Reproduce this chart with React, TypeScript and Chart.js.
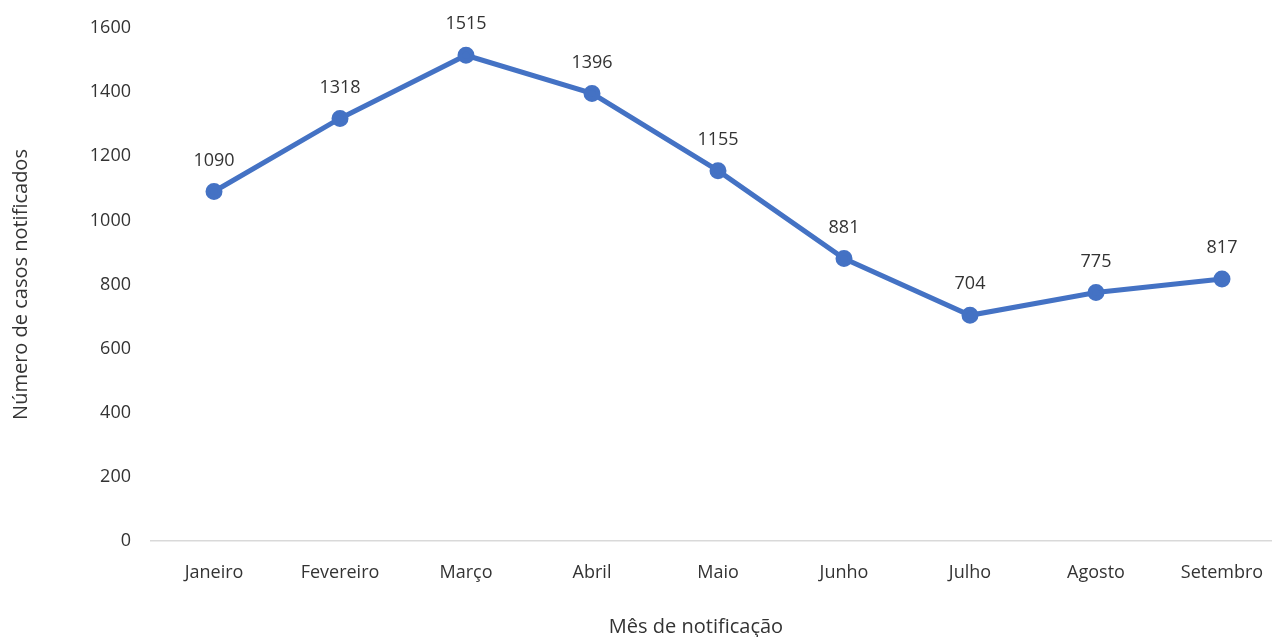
import React, { useEffect, useRef } from "react";
import { Chart, registerables } from "chart.js";

Chart.register(...registerables);

const months = ["Janeiro", "Fevereiro", "Março", "Abril", "Maio", "Junho", "Julho", "Agosto", "Setembro"];
const cases = [1090, 1318, 1515, 1396, 1155, 881, 704, 775, 817];
const yTicks = [0, 200, 400, 600, 800, 1000, 1200, 1400, 1600];
const xTitle = "Mês de notificação";
const yTitle = "Número de casos notificados";

const FONT = "'Open Sans', sans-serif";
const TEXT = "#333333";

const labelsPlugin = {
  id: "valueLabels",
  afterDatasetsDraw(chart: any) {
    const ctx = chart.ctx;
    const meta = chart.getDatasetMeta(0);
    ctx.save();
    ctx.font = `18px ${FONT}`;
    ctx.fillStyle = TEXT;
    ctx.textAlign = "center";
    ctx.textBaseline = "middle";
    meta.data.forEach((pt: any, i: number) => {
      ctx.fillText(String(cases[i]), pt.x, pt.y - 31);
    });
    ctx.restore();
  },
};

const xTitlePlugin = {
  id: "xTitle",
  afterDraw(chart: any) {
    const ctx = chart.ctx;
    const area = chart.chartArea;
    ctx.save();
    ctx.font = `20px ${FONT}`;
    ctx.fillStyle = TEXT;
    ctx.textAlign = "center";
    ctx.textBaseline = "middle";
    ctx.fillText(xTitle, (area.left + area.right) / 2 - 22, area.bottom + 86);
    ctx.restore();
  },
};

export default function App() {
  const ref = useRef<HTMLCanvasElement>(null);
  useEffect(() => {
    document.body.style.margin = "0";
    const chart = new Chart(ref.current!, {
      type: "line",
      data: {
        labels: months,
        datasets: [
          {
            data: cases,
            borderColor: "#4472C4",
            backgroundColor: "#4472C4",
            borderWidth: 5,
            pointRadius: 6,
            pointHoverRadius: 6,
            pointBackgroundColor: "#4472C4",
            pointBorderColor: "#4472C4",
            tension: 0,
          },
        ],
      },
      options: {
        responsive: false,
        animation: false,
        layout: { padding: { top: 28, right: 15, left: 0, bottom: 0 } },
        plugins: { legend: { display: false }, tooltip: { enabled: false } },
        scales: {
          x: {
            offset: true,
            grid: { display: false, drawTicks: false },
            border: { display: true, color: "#d9d9d9", width: 1.5 },
            ticks: { color: TEXT, font: { family: FONT, size: 18 }, padding: 21, maxRotation: 0, autoSkip: false },
            afterFit(scale: any) {
              scale.height = 96;
              scale.paddingLeft = 0;
              scale.paddingRight = 0;
            },
          },
          y: {
            min: 0,
            max: 1600,
            afterBuildTicks(scale: any) {
              scale.ticks = yTicks.map((v) => ({ value: v }));
            },
            grid: { display: false, drawTicks: false },
            border: { display: false },
            ticks: {
              color: TEXT,
              font: { family: FONT, size: 18 },
              padding: 20,
              callback: (v: any) => String(v),
            },
            title: {
              display: true,
              text: yTitle,
              color: TEXT,
              font: { family: FONT, size: 20 },
              padding: { top: 9, bottom: 0 },
            },
            afterFit(scale: any) {
              scale.width = 151;
              scale.paddingTop = 0;
              scale.paddingBottom = 0;
            },
          },
        },
      },
      plugins: [labelsPlugin, xTitlePlugin],
    });
    return () => chart.destroy();
  }, []);
  return (
    <div style={{ width: 1272, height: 637, overflow: "hidden", position: "relative" }}>
      <canvas ref={ref} width={1300} height={637} style={{ display: "block" }} />
    </div>
  );
}
